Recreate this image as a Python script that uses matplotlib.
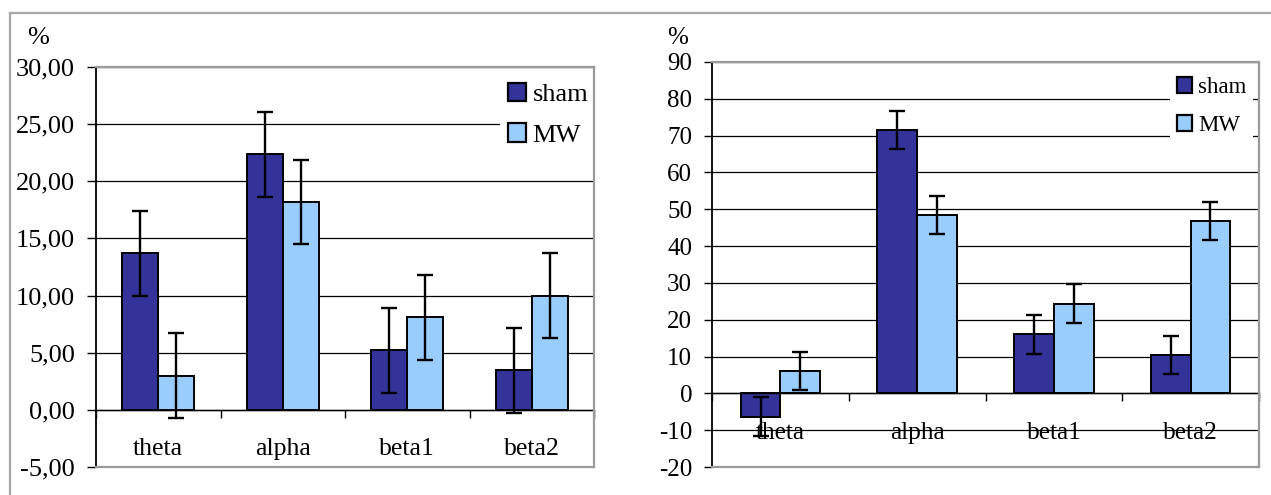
import matplotlib
matplotlib.use("Agg")
import matplotlib.pyplot as plt
from matplotlib.patches import Patch
from matplotlib.lines import Line2D
import numpy as np

plt.rcParams['font.family'] = ['Liberation Serif', 'DejaVu Serif']

categories = ["theta", "alpha", "beta1", "beta2"]
series_names = ["sham", "MW"]

# Left chart (values in %)
left_sham = [13.7, 22.35, 5.2, 3.45]
left_mw = [3.0, 18.2, 8.1, 10.0]
left_sham_err = [3.7, 3.7, 3.7, 3.7]
left_mw_err = [3.7, 3.7, 3.7, 3.7]
left_yticks = [-5, 0, 5, 10, 15, 20, 25, 30]

# Right chart (values in %)
right_sham = [-6.3, 71.5, 16.0, 10.4]
right_mw = [6.0, 48.4, 24.4, 46.8]
right_sham_err = [5.2, 5.2, 5.2, 5.2]
right_mw_err = [5.2, 5.2, 5.2, 5.2]
right_yticks = [-20, -10, 0, 10, 20, 30, 40, 50, 60, 70, 80, 90]

SHAM_C = "#333399"
MW_C = "#99CCFF"
GRAY = "#9a9a9a"

W, H = 1271, 495
fig = plt.figure(figsize=(W / 100, H / 100), dpi=100)


def px_axes(x0, y0, x1, y1):
    return fig.add_axes([x0 / W, 1 - y1 / H, (x1 - x0) / W, (y1 - y0) / H])


def draw(ax, sham, mw, sham_err, mw_err, yticks, fmt, tick_fs, lab_fs,
         leg_fs, leg_anchor, tick_len, ylabel_xy, leg_spacing):
    x = np.arange(len(categories))
    bw = 0.29
    ax.set_axisbelow(True)
    ax.bar(x - bw / 2, sham, bw, color=SHAM_C, edgecolor="black", linewidth=1.4, zorder=2)
    ax.bar(x + bw / 2, mw, bw, color=MW_C, edgecolor="black", linewidth=1.4, zorder=2)
    ax.errorbar(x - bw / 2, sham, yerr=sham_err, fmt="none", ecolor="black",
                elinewidth=1.7, capsize=5.8, capthick=1.7, zorder=4)
    ax.errorbar(x + bw / 2, mw, yerr=mw_err, fmt="none", ecolor="black",
                elinewidth=1.7, capsize=5.8, capthick=1.7, zorder=4)

    ax.set_xlim(-0.5, len(categories) - 0.5)
    ax.set_ylim(yticks[0], yticks[-1])
    ax.set_yticks(yticks)
    ax.set_yticklabels([fmt(v) for v in yticks], fontsize=tick_fs)
    ax.yaxis.grid(True, color="black", linewidth=0.9)
    ax.tick_params(axis="y", direction="out", length=tick_len, width=1.0,
                   color="black", pad=8.5)

    ax.set_xticks(np.arange(len(categories) + 1) - 0.5)
    ax.set_xticklabels([])
    ax.tick_params(axis="x", direction="out", length=5.8, width=1.0, color="black")

    ax.spines["bottom"].set_position(("data", 0))
    ax.spines["bottom"].set_color("black")
    ax.spines["bottom"].set_linewidth(1.0)
    ax.spines["left"].set_color("black")
    ax.spines["left"].set_linewidth(1.3)
    for s in ("top", "right"):
        ax.spines[s].set_color(GRAY)
        ax.spines[s].set_linewidth(1.6)
        ax.spines[s].set_zorder(6)
    ax.plot([0, 1], [0, 0], transform=ax.transAxes, color=GRAY, linewidth=1.6,
            clip_on=False, zorder=5)

    for i, c in enumerate(categories):
        ax.annotate(c, xy=(i, 0), xytext=(0, -28.5), textcoords="offset points",
                    ha="center", va="center", fontsize=lab_fs, zorder=0.3,
                    annotation_clip=False)

    fig.text(ylabel_xy[0] / W, 1 - ylabel_xy[1] / H, "%", ha="center",
             va="center", fontsize=tick_fs)

    handles = [Patch(facecolor=SHAM_C, edgecolor="black", linewidth=1.6),
               Patch(facecolor=MW_C, edgecolor="black", linewidth=1.6)]
    leg = ax.legend(handles, series_names, loc="upper left",
                    bbox_to_anchor=(leg_anchor[0] / W, 1 - leg_anchor[1] / H),
                    bbox_transform=fig.transFigure, fontsize=leg_fs,
                    frameon=True, fancybox=False, framealpha=1,
                    handlelength=0.68, handleheight=0.68, handletextpad=0.25,
                    labelspacing=leg_spacing, borderpad=0.3, borderaxespad=0)
    leg.get_frame().set_edgecolor("none")
    leg.get_frame().set_facecolor("white")
    leg.set_zorder(3)


# outer frame
fig.add_artist(Line2D([10 / W, 1], [1 - 13 / H, 1 - 13 / H], color="#a8a8a8", linewidth=1.6))
fig.add_artist(Line2D([10 / W, 10 / W], [0, 1 - 13 / H], color="#a8a8a8", linewidth=1.6))

axL = px_axes(96, 67, 594, 467)
draw(axL, left_sham, left_mw, left_sham_err, left_mw_err, left_yticks,
     lambda v: f"{v:.2f}".replace(".", ","), 19, 18.5, 19, (500, 75), 6.5, (38, 38), 0.65)

axR = px_axes(712, 62, 1259, 467)
draw(axR, right_sham, right_mw, right_sham_err, right_mw_err, right_yticks,
     lambda v: f"{v:d}", 18, 18.3, 16.5, (1170, 70), 5.8, (678, 38), 0.75)

fig.savefig("out.png", dpi=100)
